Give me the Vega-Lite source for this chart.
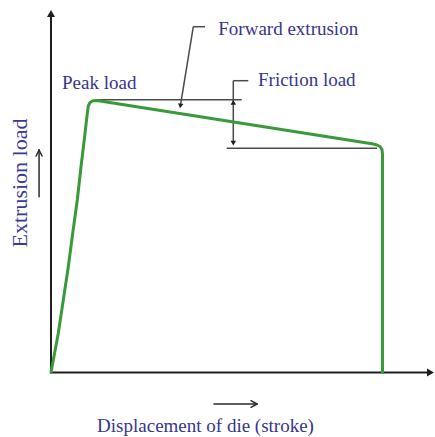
{
  "$schema": "https://vega.github.io/schema/vega-lite/v6.json",
  "width": 435,
  "height": 437,
  "autosize": {"type": "fit", "contains": "padding"},
  "padding": 0,
  "background": "white",
  "config": {"view": {"stroke": null}},
  "datasets": {
    "curve": [
      {"i": 1, "x": 0, "y": 0},
      {"i": 2, "x": 2.2, "y": 14.41},
      {"i": 3, "x": 3.71, "y": 26.65},
      {"i": 4, "x": 5.22, "y": 38.9},
      {"i": 5, "x": 6.55, "y": 51.18},
      {"i": 6, "x": 7.93, "y": 63.42},
      {"i": 7, "x": 9.05, "y": 75.66},
      {"i": 8, "x": 10.26, "y": 87.94},
      {"i": 9, "x": 10.95, "y": 95.29},
      {"i": 10, "x": 11.25, "y": 97.98},
      {"i": 11, "x": 11.76, "y": 99.26},
      {"i": 12, "x": 12.67, "y": 99.93},
      {"i": 13, "x": 13.88, "y": 100},
      {"i": 14, "x": 96.83, "y": 84.08},
      {"i": 15, "x": 98.34, "y": 83.64},
      {"i": 16, "x": 99.25, "y": 83.09},
      {"i": 17, "x": 99.85, "y": 81.99},
      {"i": 18, "x": 100, "y": 80.33},
      {"i": 19, "x": 100, "y": 0}
    ],
    "axes": [
      {"x": 0, "y": 0, "x2": 0, "y2": 132},
      {"x": 0, "y": 0, "x2": 114.5, "y2": 0}
    ],
    "guides": [
      {"x": 13.9, "y": 100.3, "x2": 57.53, "y2": 100.3},
      {"x": 53.0, "y": 82.43, "x2": 98.34, "y2": 82.43},
      {"x": 54.99, "y": 107.28, "x2": 54.99, "y2": 84.34},
      {"x": 54.99, "y": 107.28, "x2": 59.52, "y2": 107.28},
      {"x": 42.93, "y": 127.13, "x2": 46.46, "y2": 127.13},
      {"x": 42.93, "y": 127.13, "x2": 39.03, "y2": 98.01}
    ],
    "labelArrows": [
      {"x": -3.6, "y": 64.63, "x2": -3.6, "y2": 81.8},
      {"x": -3.6, "y": 81.8, "x2": -4.5, "y2": 79.6},
      {"x": -3.6, "y": 81.8, "x2": -2.7, "y2": 79.6},
      {"x": 49.17, "y": -11.58, "x2": 62.14, "y2": -11.58},
      {"x": 62.14, "y": -11.58, "x2": 60.33, "y2": -10.37},
      {"x": 62.14, "y": -11.58, "x2": 60.33, "y2": -12.79}
    ],
    "bigHeads": [
      {"dir": "up", "x": 0, "y": 132},
      {"dir": "right", "x": 114.48, "y": 0}
    ],
    "smallHeads": [
      {"dir": "up", "x": 54.99, "y": 99.3},
      {"dir": "down", "x": 54.99, "y": 84.34},
      {"dir": "slant", "x": 39.03, "y": 98.01}
    ],
    "notes": [
      {"text": "Peak load", "x": 3.32, "y": 104.1},
      {"text": "Forward extrusion", "x": 50.47, "y": 124.08},
      {"text": "Friction load", "x": 62.44, "y": 105.33}
    ],
    "xTitle": [{"text": "Displacement of die (stroke)", "x": 46.61, "y": -21.76}],
    "yTitle": [{"text": "Extrusion load", "x": -7.33, "y": 69.67}]
  },
  "encoding": {
    "x": {"field": "x", "type": "quantitative", "scale": {"domain": [-15.385, 115.84], "nice": false, "zero": false}, "axis": null},
    "y": {"field": "y", "type": "quantitative", "scale": {"domain": [-23.71, 136.95], "nice": false, "zero": false}, "axis": null}
  },
  "layer": [
    {
      "data": {"name": "axes"},
      "mark": {"type": "rule", "color": "#1e1e1e", "strokeWidth": 2},
      "encoding": {"x2": {"field": "x2"}, "y2": {"field": "y2"}}
    },
    {
      "data": {"name": "guides"},
      "mark": {"type": "rule", "color": "#4a4a4a", "strokeWidth": 1.5},
      "encoding": {"x2": {"field": "x2"}, "y2": {"field": "y2"}}
    },
    {
      "data": {"name": "labelArrows"},
      "mark": {"type": "rule", "color": "#2a2a2a", "strokeWidth": 1.5, "strokeCap": "round"},
      "encoding": {"x2": {"field": "x2"}, "y2": {"field": "y2"}}
    },
    {
      "data": {"name": "curve"},
      "mark": {"type": "line", "color": "#3a9a3a", "strokeWidth": 3, "strokeJoin": "round", "strokeCap": "round", "interpolate": "linear"},
      "encoding": {"order": {"field": "i", "type": "quantitative"}}
    },
    {
      "data": {"name": "bigHeads"},
      "transform": [{"filter": "datum.dir === 'up'"}],
      "mark": {"type": "point", "shape": "triangle-up", "filled": true, "size": 64, "color": "#1e1e1e", "opacity": 1}
    },
    {
      "data": {"name": "bigHeads"},
      "transform": [{"filter": "datum.dir === 'right'"}],
      "mark": {"type": "point", "shape": "triangle-right", "filled": true, "size": 64, "color": "#1e1e1e", "opacity": 1}
    },
    {
      "data": {"name": "smallHeads"},
      "transform": [{"filter": "datum.dir === 'up'"}],
      "mark": {"type": "point", "shape": "triangle-up", "filled": true, "size": 30, "color": "#1e1e1e", "opacity": 1}
    },
    {
      "data": {"name": "smallHeads"},
      "transform": [{"filter": "datum.dir === 'down'"}],
      "mark": {"type": "point", "shape": "triangle-down", "filled": true, "size": 30, "color": "#1e1e1e", "opacity": 1}
    },
    {
      "data": {"name": "smallHeads"},
      "transform": [{"filter": "datum.dir === 'slant'"}],
      "mark": {"type": "point", "shape": "triangle-down", "angle": 9, "filled": true, "size": 30, "color": "#1e1e1e", "opacity": 1}
    },
    {
      "data": {"name": "notes"},
      "mark": {"type": "text", "align": "left", "baseline": "alphabetic", "font": "Liberation Serif", "fontSize": 19, "color": "#36368a"},
      "encoding": {"text": {"field": "text"}}
    },
    {
      "data": {"name": "xTitle"},
      "mark": {"type": "text", "align": "center", "baseline": "alphabetic", "font": "Liberation Serif", "fontSize": 19, "color": "#36368a"},
      "encoding": {"text": {"field": "text"}}
    },
    {
      "data": {"name": "yTitle"},
      "mark": {"type": "text", "align": "center", "baseline": "alphabetic", "angle": 270, "font": "Liberation Serif", "fontSize": 22, "color": "#3a3a96"},
      "encoding": {"text": {"field": "text"}}
    }
  ]
}
